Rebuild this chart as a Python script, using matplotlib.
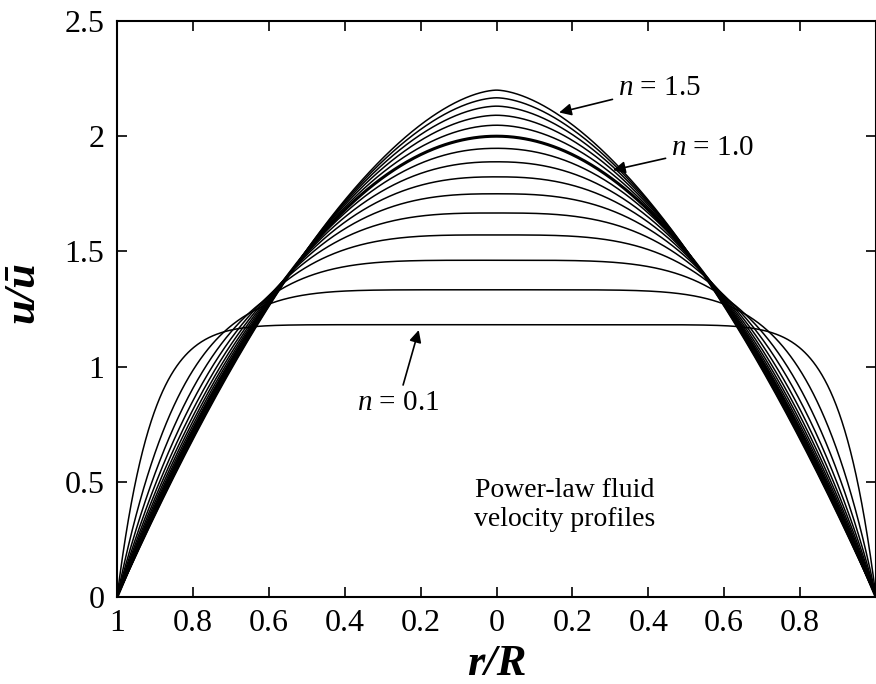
import matplotlib
matplotlib.use('Agg')
import matplotlib.pyplot as plt
import numpy as np

plt.rcParams['font.family'] = ['Liberation Serif', 'DejaVu Serif']
plt.rcParams['mathtext.fontset'] = 'custom'
plt.rcParams['mathtext.rm'] = 'Liberation Serif'
plt.rcParams['mathtext.it'] = 'Liberation Serif:italic'

# flow behaviour index of each profile
n_values = [0.1, 0.2, 0.3, 0.4, 0.5, 0.6, 0.7, 0.8, 0.9, 1.0, 1.1, 1.2, 1.3, 1.4, 1.5]
x_ticks = [-1, -0.8, -0.6, -0.4, -0.2, 0, 0.2, 0.4, 0.6, 0.8]
x_labels = ['1', '0.8', '0.6', '0.4', '0.2', '0', '0.2', '0.4', '0.6', '0.8']
y_ticks = [0, 0.5, 1, 1.5, 2, 2.5]
y_labels = ['0', '0.5', '1', '1.5', '2', '2.5']

fig = plt.figure(figsize=(8.76, 6.84), dpi=100)
ax = fig.add_axes([0.1336, 0.1272, 0.8664, 0.8421])

r = np.linspace(-1, 1, 801)
for n in n_values:
    # power-law velocity profile u/u_mean
    u = (3 * n + 1) / (n + 1) * (1 - np.abs(r) ** ((n + 1) / n))
    lw = 2.2 if n == 1.0 else 1.1
    ax.plot(r, u, color='black', lw=lw)

ax.set_xlim(-1, 1)
ax.set_ylim(0, 2.5)
ax.set_xticks(x_ticks)
ax.set_xticklabels(x_labels)
ax.set_yticks(y_ticks)
ax.set_yticklabels(y_labels)
ax.tick_params(direction='in', length=7, width=1.2, labelsize=23,
               top=True, right=True, pad=9)
for s in ax.spines.values():
    s.set_linewidth(1.5)

ax.set_xlabel('r/R', fontsize=32, fontweight='bold', style='italic', labelpad=4)
ax.set_ylabel('u/ū', fontsize=32, fontweight='bold', style='italic')
ax.yaxis.set_label_coords(-0.098, 0.53)

arw = dict(arrowstyle='-|>', color='black', lw=1.2, mutation_scale=18)
ax.annotate(r'$n$ = 1.5', xy=(0.158, 2.10), xytext=(0.32, 2.21),
            fontsize=21, va='center', ha='left', arrowprops=arw)
ax.annotate(r'$n$ = 1.0', xy=(0.30, 1.85), xytext=(0.46, 1.95),
            fontsize=21, va='center', ha='left', arrowprops=arw)
ax.annotate(r'$n$ = 0.1', xy=(-0.203, 1.17), xytext=(-0.26, 0.84),
            fontsize=21, va='center', ha='center', arrowprops=arw)
ax.text(0.18, 0.40, 'Power-law fluid\nvelocity profiles', fontsize=20,
        ha='center', va='center', linespacing=1.2)

fig.savefig('out.png', dpi=100)
